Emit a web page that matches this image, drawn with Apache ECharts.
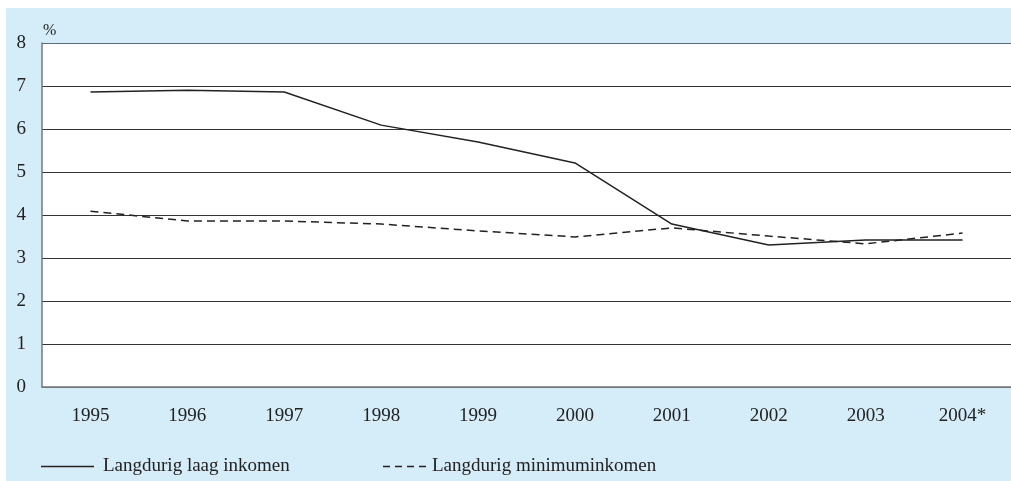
<!DOCTYPE html>
<html>
<head>
<meta charset="utf-8">
<script src="https://cdn.jsdelivr.net/npm/echarts@6/dist/echarts.min.js"></script>
<style>
html,body{margin:0;padding:0;background:#ffffff;}
#bg{position:absolute;left:6px;top:8px;width:1005px;height:473px;background:#d5edf9;}
#chart{position:absolute;left:0;top:0;width:1011px;height:481px;}
</style>
</head>
<body>
<div id="bg"></div>
<div id="chart"></div>
<script>
var years = ['1995','1996','1997','1998','1999','2000','2001','2002','2003','2004*'];
var laagInkomen = [6.86, 6.9, 6.86, 6.09, 5.7, 5.21, 3.79, 3.3, 3.42, 3.42];
var minimumInkomen = [4.09, 3.86, 3.86, 3.79, 3.63, 3.49, 3.7, 3.51, 3.33, 3.58];
var seriesNames = ['Langdurig laag inkomen', 'Langdurig minimuminkomen'];

var font = 'Liberation Serif';
var txt = '#222222';
var chart = echarts.init(document.getElementById('chart'), null, {renderer:'canvas'});
chart.setOption({
  backgroundColor: 'transparent',
  animation: false,
  grid: {left: 42, right: 0, top: 43, bottom: 94, show: true, backgroundColor: '#ffffff', borderWidth: 0},
  legend: [
    {data: [seriesNames[0]], left: 41, top: 457, padding: 0, itemWidth: 53, itemHeight: 2,
     icon: 'path://M0,0H53V1.5H0Z',
     itemStyle: {color: '#222222'},
     textStyle: {fontFamily: font, fontSize: 19, color: txt, padding: [0,0,0,4]}},
    {data: [seriesNames[1]], left: 383, top: 457, padding: 0, itemWidth: 43, itemHeight: 2,
     icon: 'path://M0,0h7v1.5h-7z M12,0h7v1.5h-7z M24,0h7v1.5h-7z M36,0h7v1.5h-7z',
     itemStyle: {color: '#222222'},
     textStyle: {fontFamily: font, fontSize: 19, color: txt, padding: [0,0,0,1]}}
  ],
  xAxis: {
    type: 'category', data: years, boundaryGap: true,
    axisLine: {lineStyle: {color: '#777777', width: 1.5}},
    axisTick: {alignWithLabel: true, length: 5, lineStyle: {color: '#333333'}},
    axisLabel: {fontFamily: font, fontSize: 19, color: txt, margin: 20}
  },
  yAxis: {
    type: 'value', min: 0, max: 8, interval: 1,
    name: '%', nameLocation: 'end', nameGap: 4,
    nameTextStyle: {fontFamily: font, fontSize: 16, color: txt, align: 'left', padding: [0,0,0,1]},
    axisLine: {show: true, lineStyle: {color: '#777777', width: 1.5}},
    axisTick: {show: false},
    axisLabel: {fontFamily: font, fontSize: 19, color: txt, margin: 16},
    splitLine: {lineStyle: {color: ['#777777','#333333','#333333','#333333','#333333','#333333','#333333','#333333','#6a6a6a'], width: 1.2}}
  },
  series: [
    {name: seriesNames[0], type: 'line', data: laagInkomen, symbol: 'none',
     lineStyle: {color: '#222222', width: 1.5}, itemStyle: {color: '#222222'}},
    {name: seriesNames[1], type: 'line', data: minimumInkomen, symbol: 'none',
     lineStyle: {color: '#222222', width: 1.5, type: [8,5]}, itemStyle: {color: '#222222'}}
  ]
});
</script>
</body>
</html>
